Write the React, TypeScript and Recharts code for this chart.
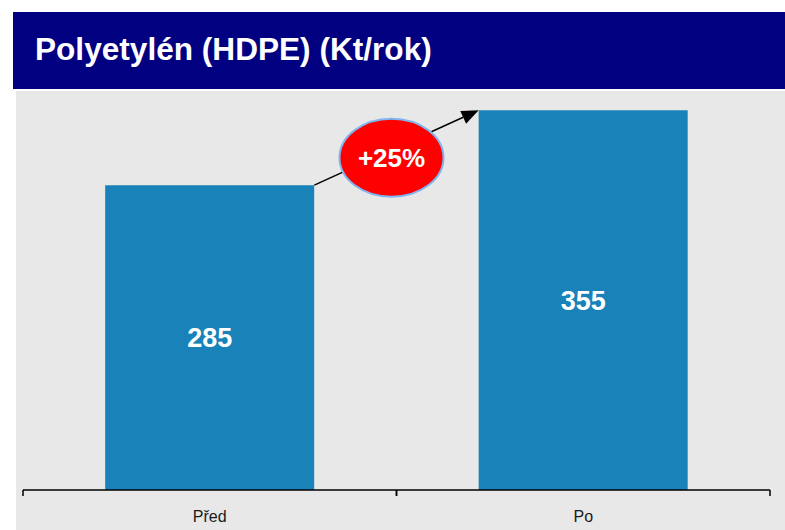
import React from "react";
import { Bar, BarChart, LabelList, ReferenceLine, XAxis, YAxis } from "recharts";

const TITLE = "Polyetylén (HDPE) (Kt/rok)";
const categories = ["Před", "Po"];
const values = [285, 355];
const growthLabel = "+25%";

const BAR_BLUE = "#1882b9";
const FONT = "'Liberation Sans', Arial, sans-serif";
const GAP = 0.22; // barCategoryGap share per side

const data = categories.map((name, i) => ({ name, value: values[i] }));

// arrow from top-right of first bar to top-left of second bar, plus the growth bubble
function ArrowShape(props: any) {
  const { x1: cx1, y1, x2: cx2, y2 } = props;
  if (cx1 == null) return null;
  const step = cx2 - cx1;
  const halfBar = step * (0.5 - GAP);
  const x1 = cx1 + halfBar;
  const x2 = cx2 - halfBar;
  const ang = Math.atan2(y2 - y1, x2 - x1);
  const len = 17;
  const half = 7;
  const bx = x2 - len * Math.cos(ang);
  const by = y2 - len * Math.sin(ang);
  const px = -Math.sin(ang) * half;
  const py = Math.cos(ang) * half;
  const mx = (x1 + x2) / 2 - 5;
  const my = (y1 + y2) / 2 + 10;
  return (
    <g>
      <line x1={x1} y1={y1} x2={bx} y2={by} stroke="#000" strokeWidth={1.5} />
      <polygon points={`${x2},${y2} ${bx + px},${by + py} ${bx - px},${by - py}`} fill="#000" />
      <ellipse cx={mx} cy={my} rx={52} ry={39} fill="#ff0000" stroke="#7fb6f2" strokeWidth={2} />
      <text
        x={mx}
        y={my}
        dy="0.36em"
        textAnchor="middle"
        fill="#fff"
        fontFamily={FONT}
        fontWeight="bold"
        fontSize={26}
      >
        {growthLabel}
      </text>
    </g>
  );
}

// tick marks sit on band edges, label in the band centre
function CatTick(props: any) {
  const { x, y, payload } = props;
  const off = payload?.offset ?? 0;
  return (
    <g>
      <line x1={x - off} y1={y - 6} x2={x - off} y2={y} stroke="#000" strokeWidth={1.5} />
      <line x1={x + off} y1={y - 6} x2={x + off} y2={y} stroke="#000" strokeWidth={1.5} />
      <text
        x={x}
        y={y + 15}
        dy="0.71em"
        textAnchor="middle"
        fill="#1a1a1a"
        fontSize={16}
        fontFamily={FONT}
      >
        {payload.value}
      </text>
    </g>
  );
}

export default function App() {
  return (
    <div style={{ position: "absolute", left: 0, top: 0, width: 785, height: 530, background: "#fff" }}>
      <div
        style={{
          position: "absolute",
          left: 13,
          top: 12,
          width: 772,
          height: 77,
          background: "#000080",
          color: "#fff",
          fontFamily: FONT,
          fontWeight: "bold",
          fontSize: 31.6,
          lineHeight: "75px",
          paddingLeft: 22,
          boxSizing: "border-box",
          whiteSpace: "nowrap",
        }}
      >
        {TITLE}
      </div>
      <div
        style={{ position: "absolute", left: 16, top: 91, width: 769, height: 439, background: "#e8e8e8" }}
      />
      <div style={{ position: "absolute", left: 0, top: 0 }}>
        <BarChart
          width={785}
          height={530}
          data={data}
          margin={{ top: 91, right: 15, left: 23, bottom: 0 }}
          barCategoryGap={`${GAP * 100}%`}
        >
          <XAxis
            dataKey="name"
            height={40}
            axisLine={{ stroke: "#000", strokeWidth: 1.5 }}
            tickLine={false}
            tickSize={6}
            tickMargin={0}
            tick={<CatTick />}
          />
          <YAxis hide domain={[0, 373]} />
          <Bar dataKey="value" fill={BAR_BLUE} isAnimationActive={false}>
            <LabelList
              dataKey="value"
              position="center"
              fill="#fff"
              fontSize={27}
              fontWeight="bold"
              fontFamily={FONT}
            />
          </Bar>
          <ReferenceLine
            segment={[
              { x: categories[0], y: values[0] },
              { x: categories[1], y: values[1] },
            ]}
            shape={ArrowShape}
          />
        </BarChart>
      </div>
    </div>
  );
}
